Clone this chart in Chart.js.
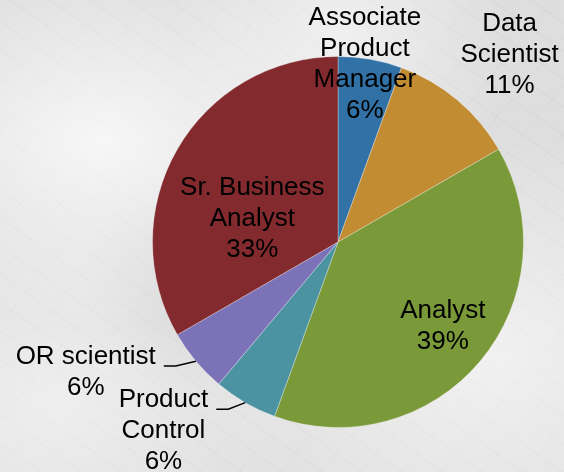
<!DOCTYPE html>
<html>
<head>
<meta charset="utf-8">
<script src="https://cdn.jsdelivr.net/npm/chart.js@4"></script>
<style>
  html, body { margin: 0; padding: 0; }
  body {
    width: 564px; height: 472px; overflow: hidden;
    background-color: #dedede;
    background-image:
      radial-gradient(ellipse at 18% 30%, rgba(255,255,255,.75), transparent 40%),
      radial-gradient(ellipse at 85% 75%, rgba(255,255,255,.6), transparent 45%),
      radial-gradient(ellipse at 60% 8%, rgba(255,255,255,.55), transparent 35%),
      radial-gradient(ellipse at 10% 85%, rgba(255,255,255,.5), transparent 35%),
      radial-gradient(ellipse at 40% 60%, rgba(160,160,160,.25), transparent 30%),
      repeating-linear-gradient(35deg, rgba(0,0,0,.02) 0 2px, transparent 2px 23px),
      repeating-linear-gradient(-50deg, rgba(0,0,0,.018) 0 1px, transparent 1px 31px);
  }
  #wrap { position: relative; width: 564px; height: 472px; }
</style>
</head>
<body>
<div id="wrap"><canvas id="pieChart" width="564" height="472"></canvas></div>
<script>
// ---------- DATA ----------
const categories = ['Associate Product Manager', 'Data Scientist', 'Analyst', 'Product Control', 'OR scientist', 'Sr. Business Analyst'];
const labelLines = [['Associate', 'Product', 'Manager'], ['Data', 'Scientist'], ['Analyst'], ['Product', 'Control'], ['OR scientist'], ['Sr. Business', 'Analyst']];
const counts = [1, 2, 7, 1, 1, 6];
const sliceColors = ['#3271a6', '#c28c33', '#7a9a3a', '#4b93a0', '#7b72b8', '#832a2e'];

// label block centre, as fractions of the radius from the pie centre
const labelSpots = [[0.145, -0.957], [0.925, -1.01], [0.565, 0.452], [-0.941, 1.02], [-1.36, 0.704], [-0.462, -0.124]];
const hasLeader = [false, false, false, true, true, false];

const total = counts.reduce((a, b) => a + b, 0);

// ---------- LABEL PLUGIN ----------
const pieLabels = {
    id: 'pieLabels',
    afterDatasetsDraw(chart) {
        const ctx = chart.ctx;
        const arcs = chart.getDatasetMeta(0).data;
        const lh = 31;
        ctx.save();
        ctx.font = '26px "Liberation Sans", Arial, sans-serif';
        ctx.fillStyle = '#000';
        ctx.textAlign = 'center';
        ctx.textBaseline = 'middle';
        arcs.forEach((arc, i) => {
            const r = arc.outerRadius;
            const cx = arc.x, cy = arc.y;
            const lines = labelLines[i].concat([Math.round(counts[i] / total * 100) + '%']);
            const bx = cx + labelSpots[i][0] * r;
            const by = cy + labelSpots[i][1] * r;
            const y0 = by - (lines.length - 1) * lh / 2;
            lines.forEach((t, j) => ctx.fillText(t, bx, y0 + j * lh));

            // leader line from the label to the middle of the slice edge
            if (hasLeader[i]) {
                const mid = (arc.startAngle + arc.endAngle) / 2;
                const ex = cx + Math.cos(mid) * r;
                const ey = cy + Math.sin(mid) * r;
                const sx = bx + ctx.measureText(lines[0]).width / 2 + 8;
                const sy = y0 + 9;
                ctx.beginPath();
                ctx.strokeStyle = '#000';
                ctx.lineWidth = 1.5;
                ctx.moveTo(sx, sy);
                ctx.lineTo(sx + 12, sy);
                ctx.lineTo(ex, ey);
                ctx.stroke();
            }
        });
        ctx.restore();
    }
};

// ---------- CHART ----------
new Chart(document.getElementById('pieChart'), {
    type: 'pie',
    data: {
        labels: categories,
        datasets: [{
            data: counts,
            backgroundColor: sliceColors,
            borderColor: 'rgba(255,255,255,0.3)',
            borderWidth: 1
        }]
    },
    options: {
        responsive: false,
        animation: false,
        layout: { padding: { left: 152, right: 40, top: 56, bottom: 44 } },
        plugins: {
            legend: { display: false },
            tooltip: { enabled: false }
        }
    },
    plugins: [pieLabels]
});
</script>
</body>
</html>
